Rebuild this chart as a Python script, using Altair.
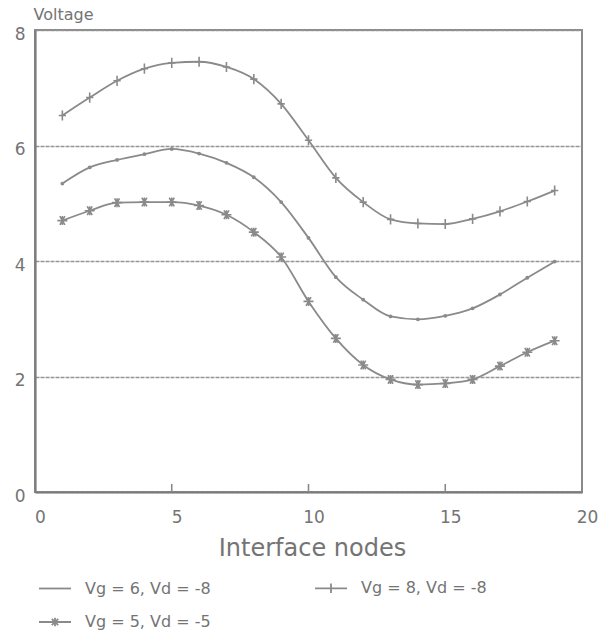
import altair as alt
import pandas as pd

# ---- data ----
nodes = list(range(1, 20))
series_names = ["Vg = 6, Vd = -8", "Vg = 8, Vd = -8", "Vg = 5, Vd = -5"]
legend_order = ["Vg = 6, Vd = -8", "Vg = 5, Vd = -5", "Vg = 8, Vd = -8"]
v_6_8 = [5.34, 5.62, 5.75, 5.85, 5.94, 5.86, 5.70, 5.45, 5.02, 4.40,
         3.72, 3.33, 3.04, 2.99, 3.05, 3.18, 3.42, 3.71, 3.99]
v_8_8 = [6.52, 6.83, 7.12, 7.33, 7.43, 7.45, 7.36, 7.15, 6.72, 6.09,
         5.44, 5.02, 4.72, 4.65, 4.64, 4.73, 4.86, 5.03, 5.22]
v_5_5 = [4.70, 4.87, 5.01, 5.02, 5.02, 4.96, 4.80, 4.50, 4.07, 3.30,
         2.66, 2.20, 1.95, 1.86, 1.88, 1.95, 2.18, 2.42, 2.62]
x_ticks = [0, 5, 10, 15, 20]
y_ticks = [0, 2, 4, 6, 8]
inner_ticks = [5, 10, 15]

rows = []
for name, vals in zip(series_names, [v_6_8, v_8_8, v_5_5]):
    for n, v in zip(nodes, vals):
        rows.append({"node": n, "voltage": v, "series": name})
df = pd.DataFrame(rows)
tick_df = pd.DataFrame({"node": inner_ticks})

grey = "#8a8a8a"
text_grey = "#747474"
font = "DejaVu Sans"

x_enc = alt.X(
    "node:Q",
    scale=alt.Scale(domain=[0, 20], nice=False),
    axis=alt.Axis(
        values=x_ticks, format="d", title="Interface nodes", grid=False, ticks=False,
        labelFlush=False, labelOffset=5, labelPadding=25, labelBaseline="middle",
        labelFontSize=17, titleFontSize=24, titleX=277, titleY=63,
        titleBaseline="alphabetic", titleAlign="center",
    ),
)
y_enc = alt.Y(
    "voltage:Q",
    scale=alt.Scale(domain=[0, 8], nice=False),
    axis=alt.Axis(
        values=y_ticks, format="d", title="Voltage", grid=True, ticks=False,
        labelPadding=10, labelOffset=4, labelFontSize=17,
        titleAngle=0, titleX=-2, titleY=-11, titleAlign="left",
        titleBaseline="alphabetic", titleFontSize=16,
    ),
)

lines = alt.Chart(df).mark_line(
    interpolate="monotone", color=grey, strokeWidth=1.8
).encode(x=x_enc, y=y_enc, detail="series:N")

marker_paths = [
    "circle",
    "M-1,0L1,0M0,-1.4L0,1.4",
    "M-1,0L1,0M-0.5,-0.87L0.5,0.87M-0.5,0.87L0.5,-0.87M0,-0.9L0,0.9",
]
points = alt.Chart(df).mark_point(
    filled=False, color=grey, strokeWidth=1.6, opacity=1
).encode(
    x="node:Q",
    y="voltage:Q",
    shape=alt.Shape("series:N", scale=alt.Scale(domain=series_names, range=marker_paths), legend=None),
    size=alt.Size("series:N", scale=alt.Scale(domain=series_names, range=[5, 100, 70]), legend=None),
)

legend_paths = [
    "M-1,0L1,0",
    "M-1,0L1,0M0,-0.27L0,0.27M-0.2,-0.2L0.2,0.2M-0.2,0.2L0.2,-0.2",
    "M-1,0L1,0M0,-0.3L0,0.3",
]
legend_layer = alt.Chart(df).mark_point(filled=False, opacity=0).encode(
    x="node:Q",
    y="voltage:Q",
    shape=alt.Shape(
        "series:N",
        scale=alt.Scale(domain=legend_order, range=legend_paths),
        legend=alt.Legend(
            title=None, orient="none", legendX=3, legendY=541, columns=2,
            columnPadding=100, rowPadding=8, symbolSize=1024,
            symbolStrokeColor=grey, symbolStrokeWidth=1.8, symbolOpacity=1,
            symbolFillColor="transparent", labelFont=font, labelFontSize=16,
            labelColor=text_grey, labelOffset=13,
        ),
    ),
)

ticks = alt.Chart(tick_df).mark_rule(color=grey, strokeWidth=1.6).encode(
    x="node:Q", y=alt.datum(0), y2=alt.datum(0.14)
)

chart = (
    alt.layer(lines, points, legend_layer, ticks)
    .resolve_scale(shape="independent", size="independent")
    .properties(
        width=547, height=462,
        autosize=alt.AutoSizeParams(type="none"),
        padding={"left": 35, "top": 30, "right": 30, "bottom": 150},
        background="white",
    )
    .configure_view(stroke=grey, strokeWidth=2)
    .configure_axis(
        domainColor="#7c7c7c", domainWidth=2.2,
        labelFont=font, titleFont=font, labelColor=text_grey, titleColor=text_grey,
        titleFontWeight="normal", gridColor="#959595", gridWidth=1.3, gridDash=[4, 1],
    )
)

chart.save("out.html", embed_options={"renderer": "svg", "actions": False})
